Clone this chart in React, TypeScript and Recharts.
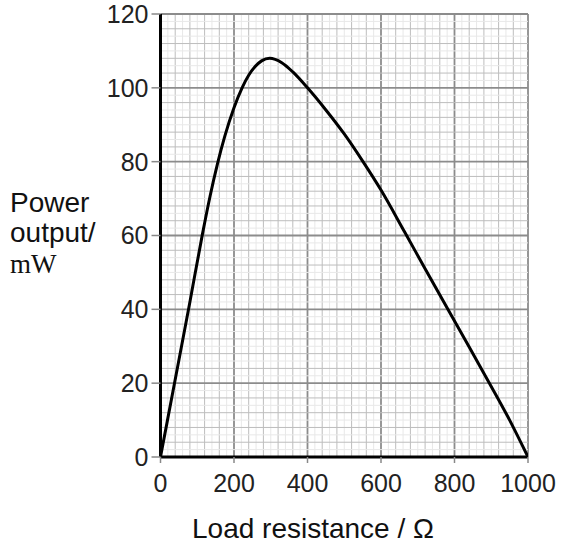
import React from 'react';
import { LineChart, Line, XAxis, YAxis, ReferenceLine } from 'recharts';

// Data
const resistance = [0, 40, 80, 114, 135, 155, 175, 200, 222, 240, 257, 275, 297, 330, 360, 400, 450, 500, 551, 600, 664, 720, 782, 840, 895, 950, 1000];
const power = [0, 21, 42, 60.3, 70.7, 79.4, 86.9, 94.6, 100, 103.4, 105.7, 107.3, 108, 106.8, 104.3, 100, 94, 87.5, 80, 72.3, 61, 51, 40, 29.8, 20, 10, 0];

const xTicks = [0, 200, 400, 600, 800, 1000];
const yTicks = [0, 20, 40, 60, 80, 100, 120];

const data = resistance.map((r, i) => ({ r, p: power[i] }));

// graph-paper grid values
const xGrid = Array.from({ length: 50 }, (_, i) => (i + 1) * 20);
const yGrid = Array.from({ length: 60 }, (_, i) => (i + 1) * 2);

const FONT = '"Liberation Sans", Arial, sans-serif';

const styleFor = (v: number, major: number, mid: number) => {
  if (v % major === 0) return { stroke: '#8c8c8c', strokeWidth: 1.8, rank: 2 };
  if (v % mid === 0) return { stroke: '#bdbdbd', strokeWidth: 1, rank: 1 };
  return { stroke: '#e8e8e8', strokeWidth: 1, rank: 0 };
};

const YLabel = (props: any) => {
  const vb = props.viewBox || { x: 100, y: 14 };
  const left = vb.x - 90.5;
  return (
    <g>
      <text x={left} y={211.5} fontSize={28} fontFamily={FONT} fill="#111">Power</text>
      <text x={left} y={242} fontSize={28} fontFamily={FONT} fill="#111">output/</text>
      <text x={left} y={273} fontSize={27} fontFamily='"Liberation Serif", "Times New Roman", serif' fill="#111">mW</text>
    </g>
  );
};

const XLabel = (props: any) => {
  const vb = props.viewBox || { x: 160, y: 457, width: 368 };
  return (
    <text x={vb.x + 31.5} y={538} fontSize={28} fontFamily={FONT} fill="#111">
      Load resistance / Ω
    </text>
  );
};

const allX = [0, 1, 2].flatMap((rank) => xGrid.filter((v) => styleFor(v, 200, 40).rank === rank));
const allY = [0, 1, 2].flatMap((rank) => yGrid.filter((v) => styleFor(v, 20, 4).rank === rank));

export default function App() {
  return (
    <div style={{ position: 'absolute', left: 0, top: 0, width: 561, height: 544, background: '#fff' }}>
      <LineChart width={561} height={544} data={data} margin={{ top: 14, right: 33, bottom: 57, left: 100.5 }}>
        <XAxis
          dataKey="r"
          type="number"
          domain={[0, 1000]}
          ticks={xTicks}
          allowDataOverflow
          height={30}
          tickSize={6}
          tickMargin={11}
          axisLine={false}
          tickLine={{ stroke: '#888', strokeWidth: 1.5 }}
          tick={{ fill: '#222', fontSize: 25, fontFamily: FONT }}
          label={{ content: XLabel }}
        />
        <YAxis
          type="number"
          domain={[0, 120]}
          ticks={yTicks}
          allowDataOverflow
          width={60}
          tickSize={9}
          tickMargin={3}
          axisLine={false}
          tickLine={{ stroke: '#888', strokeWidth: 1.5 }}
          tick={{ fill: '#222', fontSize: 25, fontFamily: FONT }}
          label={{ content: YLabel }}
        />
        {allX.map((v) => {
          const s = styleFor(v, 200, 40);
          return <ReferenceLine key={'x' + v} x={v} stroke={s.stroke} strokeWidth={s.strokeWidth} />;
        })}
        {allY.map((v) => {
          const s = styleFor(v, 20, 4);
          return <ReferenceLine key={'y' + v} y={v} stroke={s.stroke} strokeWidth={s.strokeWidth} />;
        })}
        <ReferenceLine x={0} stroke="#000" strokeWidth={3} />
        <ReferenceLine y={0} stroke="#000" strokeWidth={3} />
        <Line
          type="monotone"
          dataKey="p"
          stroke="#000"
          strokeWidth={3}
          dot={false}
          isAnimationActive={false}
        />
      </LineChart>
    </div>
  );
}
